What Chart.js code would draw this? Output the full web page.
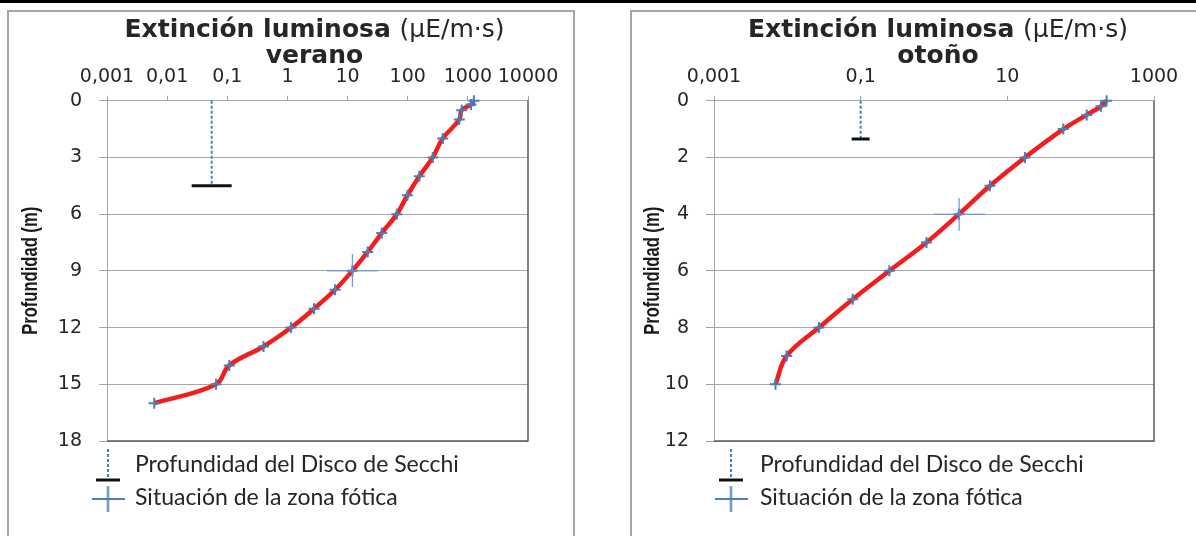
<!DOCTYPE html>
<html lang="es">
<head>
<meta charset="utf-8">
<title>Extinción luminosa</title>
<script src="https://cdn.jsdelivr.net/npm/chart.js@4.4.1/dist/chart.umd.min.js"></script>
<style>
  html, body { margin: 0; padding: 0; background: #fff; }
  body { width: 1196px; height: 536px; overflow: hidden; position: relative; }
  .banda { position: absolute; left: 0; top: 0; width: 1196px; height: 3px; background: #000; }
  .marco { position: absolute; top: 10px; height: 560px; border: 2px solid #a6a6a6; box-sizing: border-box; }
  canvas { position: absolute; top: 0; }
</style>
</head>
<body>
<div class="banda"></div>
<div class="marco" style="left:7px;width:568px;"></div>
<div class="marco" style="left:630px;width:600px;"></div>
<canvas id="verano" width="598" height="536" style="left:0;"></canvas>
<canvas id="otono" width="598" height="536" style="left:598px;"></canvas>
<script>
// Perfiles de luz (µE/m·s) frente a la profundidad (m)
const PROF_VERANO = [0, 0.2, 0.5, 1, 2, 3, 4, 5, 6, 7, 8, 9, 10, 11, 12, 13, 14, 15, 16];
const LUZ_VERANO  = [1260, 1130, 790, 720, 382, 261, 156, 99, 66, 37, 21.6, 12, 6.2, 2.77, 1.15, 0.40, 0.108, 0.065, 0.0061];
const PROF_OTONO  = [0, 0.2, 0.5, 1, 2, 3, 4, 5, 6, 7, 8, 9, 10];
const LUZ_OTONO   = [226, 189, 121, 58, 17.4, 5.8, 2.19, 0.79, 0.246, 0.078, 0.027, 0.0098, 0.0069];

// Disco de Secchi: [luz, profundidad]
const SECCHI_VERANO = [0.055, 4.5];
const SECCHI_OTONO  = [0.1, 1.35];
// Límite de la zona fótica (1 % de la luz en superficie): [luz, profundidad]
const FOTICA_VERANO = [12, 9];
const FOTICA_OTONO  = [2.2, 4];

// Marcas de los ejes
const TICKS_X_VERANO = [0.001, 0.01, 0.1, 1, 10, 100, 1000, 10000];
const TICKS_X_OTONO  = [0.001, 0.1, 10, 1000];
const TICKS_Y_VERANO = [0, 3, 6, 9, 12, 15, 18];
const TICKS_Y_OTONO  = [0, 2, 4, 6, 8, 10, 12];

const TITULO = 'Extinción luminosa ';
const UNIDAD = '(µE/m·s)';
const ESTACIONES = ['verano', 'otoño'];
const EJE_Y = 'Profundidad (m)';
const LEYENDA = ['Profundidad del Disco de Secchi', 'Situación de la zona fótica'];

const AZUL = '#4a7ebb';
const AZUL_CLARO = '#5b93d3';
const ROJO = '#f01e1e';
const GRIS = '#a6a6a6';
const TEXTO = '#262626';

const fmt = v => String(v).replace('.', ',');

function cruz(w, h, color, lw) {
  const c = document.createElement('canvas');
  c.width = w; c.height = h;
  const g = c.getContext('2d');
  g.strokeStyle = color; g.lineWidth = lw;
  g.beginPath();
  g.moveTo(0, h / 2); g.lineTo(w, h / 2);
  g.moveTo(w / 2, 0); g.lineTo(w / 2, h);
  g.stroke();
  return c;
}

// Titles, narrow axis title, frame of the plot area and the legend
const decoracion = {
  id: 'decoracion',
  afterDraw(chart, args, o) {
    const ctx = chart.ctx;
    const a = chart.chartArea;
    ctx.save();
    // right and bottom edges of the plot area
    ctx.strokeStyle = '#5a5a5a';
    ctx.lineWidth = 1.5;
    ctx.beginPath();
    ctx.moveTo(a.right, a.top); ctx.lineTo(a.right, a.bottom); ctx.lineTo(a.left, a.bottom);
    ctx.stroke();

    // title
    const cx = (a.left + a.right) / 2 + o.dx;
    const fb = 'bold 25px "DejaVu Sans"', fr = '25px "DejaVu Sans"';
    ctx.fillStyle = TEXTO;
    ctx.textBaseline = 'middle';
    ctx.font = fb; const w1 = ctx.measureText(TITULO).width;
    ctx.font = fr; const w2 = ctx.measureText(UNIDAD).width;
    const x = cx - (w1 + w2) / 2;
    ctx.textAlign = 'left';
    ctx.font = fb; ctx.fillText(TITULO, x, o.y1);
    ctx.font = fr; ctx.fillText(UNIDAD, x + w1, o.y1);
    ctx.font = fb; ctx.textAlign = 'center';
    ctx.fillText(o.estacion, cx, o.y2);

    // vertical axis title, bold and condensed
    ctx.save();
    ctx.translate(o.ejeX, (a.top + a.bottom) / 2);
    ctx.rotate(-Math.PI / 2);
    ctx.font = 'bold 22px "Liberation Sans"';
    ctx.scale(o.ejeLargo / ctx.measureText(EJE_Y).width, 1);
    ctx.fillStyle = '#1a1a1a';
    ctx.textAlign = 'center';
    ctx.textBaseline = 'middle';
    ctx.fillText(EJE_Y, 0, 0);
    ctx.restore();

    // legend
    const lx = o.lx;
    ctx.setLineDash([3, 2]);
    ctx.strokeStyle = AZUL; ctx.lineWidth = 2;
    ctx.beginPath(); ctx.moveTo(lx, o.ly1 - 17); ctx.lineTo(lx, o.ly1 + 13); ctx.stroke();
    ctx.setLineDash([]);
    ctx.strokeStyle = '#111'; ctx.lineWidth = 3;
    ctx.beginPath(); ctx.moveTo(lx - 12, o.ly1 + 14); ctx.lineTo(lx + 12, o.ly1 + 14); ctx.stroke();
    ctx.drawImage(cruz(33, 26, AZUL, 2), lx - 16.5, o.ly2 - 13);
    ctx.font = '23px Lato';
    ctx.fillStyle = TEXTO;
    ctx.textAlign = 'left';
    ctx.fillText(LEYENDA[0], o.tx, o.ly1 - 1);
    ctx.fillText(LEYENDA[1], o.tx, o.ly2 - 1);
    ctx.restore();
  }
};

function grafico(id, p) {
  const serie = p.prof.map((d, i) => ({ x: p.luz[i], y: d }));
  return new Chart(document.getElementById(id), {
    type: 'scatter',
    data: {
      datasets: [
        {
          label: LEYENDA[1],
          data: [{ x: p.fotica[0], y: p.fotica[1] }],
          pointStyle: cruz(51, 33, AZUL_CLARO, 1.2),
          pointRadius: 10,
          clip: false
        },
        {
          label: 'Extinción luminosa',
          data: serie,
          showLine: true,
          borderColor: ROJO,
          borderWidth: 4.5,
          tension: 0.4,
          pointStyle: 'cross',
          pointRadius: 5.5,
          pointBorderWidth: 2,
          pointBorderColor: AZUL,
          pointBackgroundColor: AZUL,
          clip: false
        },
        {
          label: LEYENDA[0],
          data: [{ x: p.secchi[0], y: 0 }, { x: p.secchi[0], y: p.secchi[1] }],
          showLine: true,
          borderColor: AZUL,
          borderWidth: 2,
          borderDash: [3, 2],
          pointStyle: 'line',
          pointRadius: [0, p.capa],
          pointBorderColor: '#111',
          pointBorderWidth: 3,
          clip: false
        }
      ]
    },
    options: {
      responsive: false,
      animation: false,
      devicePixelRatio: 1,
      events: [],
      layout: { padding: { left: p.padL, right: p.padR, top: 0, bottom: 95 } },
      plugins: {
        legend: { display: false },
        tooltip: { enabled: false },
        decoracion: {
          dx: p.dx, y1: 30, y2: 56, estacion: p.estacion, lx: p.lx, tx: p.tx,
          ly1: 466, ly2: 499, ejeX: p.ejeX, ejeLargo: 128
        }
      },
      scales: {
        x: {
          type: 'logarithmic',
          position: 'top',
          min: p.ticksX[0],
          max: p.ticksX[p.ticksX.length - 1],
          afterBuildTicks: s => { s.ticks = p.ticksX.map(v => ({ value: v })); },
          afterFit: s => { s.height = 100.7; },
          ticks: {
            autoSkip: false, maxRotation: 0, minRotation: 0, padding: 7,
            color: TEXTO, font: { family: 'DejaVu Sans', size: 19 },
            callback: v => fmt(v)
          },
          grid: { drawOnChartArea: false, drawTicks: true, tickLength: 5, color: GRIS, lineWidth: 1 },
          border: { color: GRIS, width: 1 }
        },
        y: {
          type: 'linear',
          reverse: true,
          min: p.ticksY[0],
          max: p.ticksY[p.ticksY.length - 1],
          afterBuildTicks: s => { s.ticks = p.ticksY.map(v => ({ value: v })); },
          afterFit: s => { s.width = p.anchoY; },
          ticks: { padding: 17, color: TEXTO, font: { family: 'DejaVu Sans', size: 19 } },
          grid: { color: GRIS, tickLength: 8, lineWidth: 1 },
          border: { color: GRIS, width: 1 }
        }
      }
    },
    plugins: [decoracion]
  });
}

grafico('verano', {
  prof: PROF_VERANO, luz: LUZ_VERANO, secchi: SECCHI_VERANO, fotica: FOTICA_VERANO,
  ticksX: TICKS_X_VERANO, ticksY: TICKS_Y_VERANO, estacion: ESTACIONES[0],
  capa: 20, padL: 17, anchoY: 90, padR: 70, dx: -3, lx: 108, tx: 135, ejeX: 31
});
grafico('otono', {
  prof: PROF_OTONO, luz: LUZ_OTONO, secchi: SECCHI_OTONO, fotica: FOTICA_OTONO,
  ticksX: TICKS_X_OTONO, ticksY: TICKS_Y_OTONO, estacion: ESTACIONES[1],
  capa: 9, padL: 40, anchoY: 76, padR: 42, dx: 4, lx: 133, tx: 162, ejeX: 55
});
</script>
</body>
</html>
